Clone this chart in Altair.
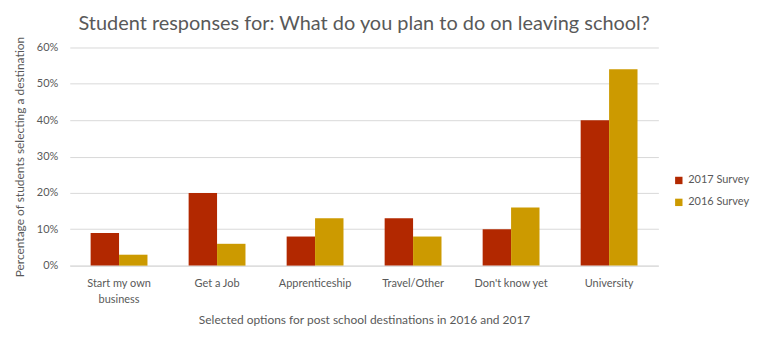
import altair as alt
import pandas as pd

categories = ["Start my own business", "Get a Job", "Apprenticeship", "Travel/Other", "Don't know yet", "University"]
series_names = ["2017 Survey", "2016 Survey"]
values_2017 = [0.09, 0.20, 0.08, 0.13, 0.10, 0.40]
values_2016 = [0.03, 0.06, 0.13, 0.08, 0.16, 0.54]
colors = ["#B22800", "#CC9A00"]

rows = []
for c, a, b in zip(categories, values_2017, values_2016):
    rows.append({"cat": c, "series": series_names[0], "value": a})
    rows.append({"cat": c, "series": series_names[1], "value": b})
df = pd.DataFrame(rows)

font = "Lato"
grey = "#595959"

chart = alt.Chart(df).mark_bar().encode(
    x=alt.X("cat:N", sort=categories,
            scale=alt.Scale(paddingInner=0.42, paddingOuter=0.213),
            axis=alt.Axis(title="Selected options for post school destinations in 2016 and 2017",
                          labelAngle=0, ticks=False, grid=False, domainColor="#D9D9D9",
                          labelPadding=12, titlePadding=10, labelLineHeight=16,
                          labelExpr="datum.label == 'Start my own business' ? ['Start my own', 'business'] : datum.label")),
    xOffset=alt.XOffset("series:N", sort=series_names),
    y=alt.Y("value:Q", scale=alt.Scale(domain=[0, 0.6]),
            axis=alt.Axis(format=".0%", values=[0, 0.1, 0.2, 0.3, 0.4, 0.5, 0.6],
                          title="Percentage of students selecting a destination",
                          ticks=False, domain=False, gridColor="#D9D9D9",
                          labelPadding=12, titlePadding=10)),
    color=alt.Color("series:N", sort=series_names,
                    scale=alt.Scale(domain=series_names, range=colors),
                    legend=alt.Legend(title=None, orient="none", legendX=606, legendY=128,
                                      symbolType="square", symbolSize=55, rowPadding=10,
                                      labelFontSize=11, labelColor=grey, labelFont=font,
                                      symbolStrokeWidth=0)),
).properties(
    width=591, height=219, background="white",
    padding={"top": 5, "left": 5, "right": 5, "bottom": 5},
    title=alt.TitleParams("Student responses for: What do you plan to do on leaving school?",
                          fontSize=20, font=font, fontWeight="normal", color=grey, anchor="middle",
                          offset=2),
).configure_view(stroke=None).configure_axis(
    labelFont=font, titleFont=font, labelFontSize=11, titleFontSize=12,
    labelColor=grey, titleColor=grey, titleFontWeight="normal"
)

chart.save("out.html", embed_options={"renderer": "svg", "actions": False})
